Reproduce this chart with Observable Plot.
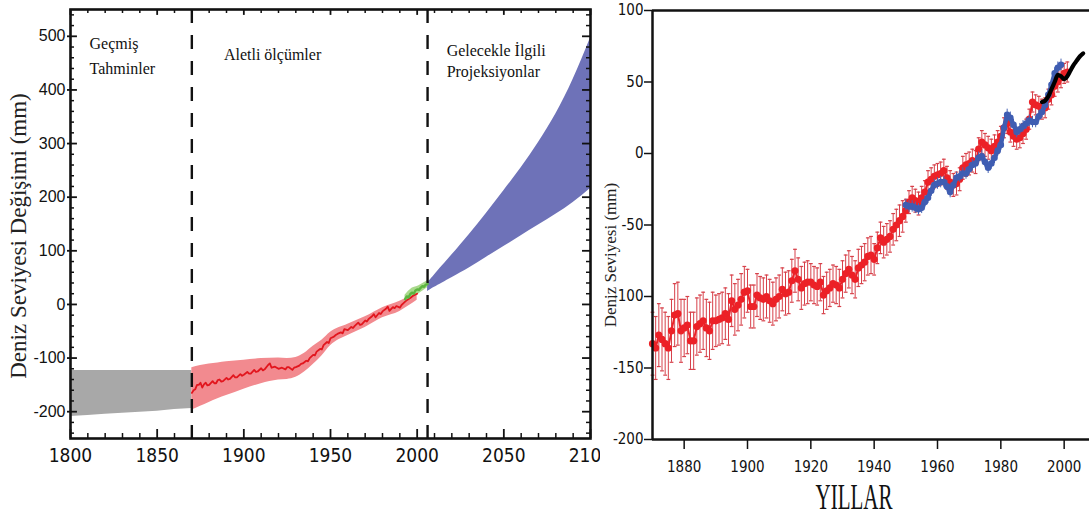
<!DOCTYPE html>
<html>
<head>
<meta charset="utf-8">
<script src="https://cdn.jsdelivr.net/npm/d3@7"></script>
<script src="https://cdn.jsdelivr.net/npm/@observablehq/plot@0.6"></script>
<style>
  html, body { margin: 0; padding: 0; background: #fff; }
  body { width: 1089px; height: 515px; overflow: hidden; position: relative; }
  #left { position: absolute; left: 0; top: 0; width: 600px; height: 470px; overflow: hidden; }
  #right { position: absolute; left: 600px; top: 0; width: 489px; height: 515px; overflow: hidden; }
  #yillar { position: absolute; left: 854px; top: 497px; transform: translate(-50%, -50%) scaleX(0.6);
            font-family: "Liberation Serif", "Times New Roman", serif; font-size: 35px; color: #111; white-space: nowrap; line-height: 1; }
</style>
</head>
<body>
<div id="left"></div>
<div id="right"></div>
<div id="yillar">YILLAR</div>
<script>
// ---------------- LEFT PANEL DATA ----------------
const leftYLabel = "Deniz Seviyesi Değişimi (mm)";
const leftXMajor = [1800, 1850, 1900, 1950, 2000, 2050, 2100];
const leftXMinor = [1810, 1820, 1830, 1840, 1860, 1870, 1880, 1890, 1910, 1920, 1930, 1940, 1960, 1970, 1980, 1990, 2010, 2020, 2030, 2040, 2060, 2070, 2080, 2090];
const leftYMajor = [-200, -100, 0, 100, 200, 300, 400, 500];
const leftYMinor = [-240, -220, -180, -160, -140, -120, -80, -60, -40, -20, 20, 40, 60, 80, 120, 140, 160, 180, 220, 240, 260, 280, 320, 340, 360, 380, 420, 440, 460, 480, 520, 540];
const periodBounds = [1870, 2006];

const periodLabels = [
  {year: 1811, value: 485, text: "Geçmiş"},
  {year: 1811, value: 440, text: "Tahminler"},
  {year: 1888.5, value: 466, text: "Aletli ölçümler"},
  {year: 2017, value: 472, text: "Gelecekle İlgili"},
  {year: 2017, value: 433, text: "Projeksiyonlar"}
];

// [year, low, high]
const grayBand = [[1800,-209,-123],[1810,-207,-123],[1820,-205,-123],[1830,-203,-123],[1840,-201,-123],[1850,-199,-123],[1860,-196,-123],[1870,-194,-123]];
const redBand = [[1870,-197,-118],[1875,-190,-114],[1880,-183,-111],[1885,-176,-109],[1890,-170,-107],[1900,-158,-104],[1910,-148,-101],[1920,-141,-100],[1925,-140,-101],[1930,-136,-99],[1935,-126,-91],[1940,-112,-78],[1945,-96,-67],[1950,-77,-52],[1960,-58,-37],[1970,-43,-23],[1980,-25,-6],[1990,-13,6],[1995,-3,14],[2000,8,27]];
const redLine = [[1870,-165],[1871,-160],[1872,-158],[1873,-150],[1874,-150],[1875,-146],[1876,-155],[1877,-149],[1878,-146],[1879,-151],[1880,-150],[1882,-143],[1883,-147],[1884,-147],[1885,-141],[1886,-140],[1887,-144],[1888,-143],[1890,-137],[1891,-140],[1892,-139],[1894,-132],[1895,-136],[1896,-136],[1898,-130],[1899,-133],[1900,-131],[1902,-126],[1903,-129],[1904,-129],[1906,-122],[1907,-126],[1908,-125],[1910,-119],[1911,-123],[1912,-121],[1914,-113],[1915,-110],[1916,-118],[1918,-116],[1919,-118],[1920,-120],[1922,-118],[1924,-121],[1925,-117],[1926,-117],[1928,-122],[1929,-118],[1930,-117],[1932,-114],[1933,-111],[1934,-110],[1936,-105],[1937,-106],[1938,-100],[1940,-94],[1941,-95],[1942,-88],[1944,-83],[1945,-84],[1946,-76],[1948,-70],[1949,-72],[1950,-63],[1952,-60],[1953,-57],[1954,-55],[1956,-52],[1957,-54],[1958,-46],[1960,-48],[1962,-42],[1963,-44],[1964,-40],[1966,-34],[1967,-38],[1968,-37],[1970,-30],[1971,-32],[1972,-27],[1974,-22],[1975,-18],[1976,-24],[1978,-16],[1979,-18],[1980,-13],[1982,-8],[1983,-4],[1984,-12],[1986,-5],[1987,-7],[1988,-3],[1990,-6],[1991,-1],[1992,2],[1994,8],[1996,12],[1998,17],[2000,20]];
const greenLine = [[1993,10],[1994,15],[1995,13],[1996,19],[1997,22],[1998,20],[1999,26],[2000,28],[2001,27],[2002,31],[2003,34],[2004,33],[2005,37],[2006,38]];
const greenBand = [[1993,3,17],[1997,13,30],[2001,20,35],[2006,31,44]];
const blueBand = [[2006,24,40],[2010,32,55],[2020,50,92],[2030,68,130],[2040,88,170],[2050,108,212],[2060,128,255],[2070,148,302],[2080,168,355],[2090,190,420],[2100,216,497]];

// ---------------- RIGHT PANEL DATA ----------------
const rightYLabel = "Deniz Seviyesi (mm)";
const rightXTicks = [1880, 1900, 1920, 1940, 1960, 1980, 2000];
const rightYTicks = [-200, -150, -100, -50, 0, 50, 100];

// red reconstruction [year, value]
const redSeries = [[1870,-133],[1871,-136],[1872,-127],[1873,-130],[1874,-133],[1875,-136],[1876,-124],[1877,-113],[1878,-112],[1879,-124],
[1880,-122],[1881,-120],[1882,-131],[1883,-131],[1884,-121],[1885,-119],[1886,-117],[1887,-122],[1888,-124],[1889,-117],
[1890,-117],[1891,-116],[1892,-115],[1893,-112],[1894,-116],[1895,-103],[1896,-109],[1897,-106],[1898,-102],[1899,-97],
[1900,-96],[1901,-107],[1902,-107],[1903,-99],[1904,-101],[1905,-102],[1906,-100],[1907,-103],[1908,-105],[1909,-102],
[1910,-100],[1911,-95],[1912,-98],[1913,-97],[1914,-89],[1915,-82],[1916,-88],[1917,-94],[1918,-91],[1919,-90],
[1920,-90],[1921,-92],[1922,-93],[1923,-90],[1924,-99],[1925,-96],[1926,-94],[1927,-91],[1928,-92],[1929,-94],
[1930,-88],[1931,-84],[1932,-81],[1933,-85],[1934,-88],[1935,-80],[1936,-78],[1937,-76],[1938,-72],[1939,-71],
[1940,-74],[1941,-66],[1942,-59],[1943,-62],[1944,-60],[1945,-58],[1946,-53],[1947,-50],[1948,-47],[1949,-44],
[1950,-40],[1951,-34],[1952,-31],[1953,-33],[1954,-35],[1955,-31],[1956,-27],[1957,-20],[1958,-18],[1959,-16],
[1960,-15],[1961,-14],[1962,-12],[1963,-17],[1964,-20],[1965,-22],[1966,-21],[1967,-18],[1968,-10],[1969,-8],
[1970,-7],[1971,-5],[1972,-6],[1973,3],[1974,8],[1975,6],[1976,4],[1977,2],[1978,5],[1979,8],
[1980,12],[1981,18],[1982,21],[1983,15],[1984,12],[1985,10],[1986,11],[1987,14],[1988,17],[1989,24],
[1990,36],[1991,34],[1992,33],[1993,31],[1994,32],[1995,38],[1996,41],[1997,47],[1998,50],[1999,53],
[2000,56],[2001,57]];
// error half-widths by period
const redErrorPeriods = [
  {from: 1870, to: 1879, err: 22},
  {from: 1880, to: 1889, err: 20},
  {from: 1890, to: 1899, err: 18},
  {from: 1900, to: 1919, err: 15},
  {from: 1920, to: 1939, err: 13},
  {from: 1940, to: 1949, err: 11},
  {from: 1950, to: 1979, err: 8},
  {from: 1980, to: 2001, err: 7}
];
// blue reconstruction
const blueSeries = [[1950,-36],[1951,-37],[1952,-37],[1953,-38],[1954,-39],[1955,-38],[1956,-34],[1957,-31],[1958,-26],[1959,-22],
[1960,-21],[1961,-20],[1962,-20],[1963,-23],[1964,-27],[1965,-22],[1966,-17],[1967,-16],[1968,-14],[1969,-14],
[1970,-11],[1971,-8],[1972,-7],[1973,-3],[1974,-2],[1975,-6],[1976,-10],[1977,-7],[1978,-3],[1979,2],
[1980,6],[1981,18],[1982,27],[1983,25],[1984,20],[1985,15],[1986,17],[1987,19],[1988,21],[1989,23],
[1990,22],[1991,22],[1992,26],[1993,29],[1994,34],[1995,41],[1996,48],[1997,56],[1998,60],[1999,62]];
const blueErr = 4;
// satellite altimetry
const blackSeries = [[1993,36],[1994,37],[1995,40],[1996,45],[1997,50],[1998,55],[1999,54],[2000,52],[2001,54],[2002,58],[2003,62],[2004,65],[2005,68],[2006,70]];

// ---------------- LEFT PANEL ----------------
const L = {x0: 1800, x1: 2100, y0: -250, y1: 550};
const lx = d => d[0];
const tickMajV = 16.8, tickMinV = 9.3;   // bottom tick length (mm)
const tickTopMaj = 11, tickTopMin = 7.5; // top tick length (mm)
const tickMajH = 4.0, tickMinH = 2.3;    // left tick length (years)
const tickRMaj = 4.6, tickRMin = 2.3;    // right tick length (years)

const left = Plot.plot({
  width: 600, height: 470,
  marginLeft: 70, marginRight: 10, marginTop: 9, marginBottom: 32,
  x: {domain: [L.x0, L.x1]},
  y: {domain: [L.y0, L.y1]},
  style: {background: "white", fontFamily: "'Liberation Sans', Arial, sans-serif", color: "#111", overflow: "visible"},
  marks: [
    Plot.areaY(grayBand, {x: lx, y1: d => d[1], y2: d => d[2], fill: "#a8a8a8"}),
    Plot.areaY(redBand, {x: lx, y1: d => d[1], y2: d => d[2], fill: "#f28a8f", curve: "monotone-x"}),
    Plot.areaY(blueBand, {x: lx, y1: d => d[1], y2: d => d[2], fill: "#6e72b8", curve: "natural"}),
    Plot.areaY(greenBand, {x: lx, y1: d => d[1], y2: d => d[2], fill: "#a9d98c", curve: "monotone-x"}),
    Plot.line(redLine, {x: lx, y: d => d[1], stroke: "#e2161e", strokeWidth: 1.8}),
    Plot.line(greenLine, {x: lx, y: d => d[1], stroke: "#5cb540", strokeWidth: 2.4}),
    Plot.ruleX(periodBounds, {x: d => d, stroke: "#111", strokeWidth: 2.4, strokeDasharray: "14,12"}),
    // inward ticks
    Plot.ruleX(leftXMajor, {x: d => d, y1: L.y0, y2: L.y0 + tickMajV, stroke: "#111", strokeWidth: 1.8}),
    Plot.ruleX(leftXMinor, {x: d => d, y1: L.y0, y2: L.y0 + tickMinV, stroke: "#111", strokeWidth: 1.5}),
    Plot.ruleX(leftXMajor, {x: d => d, y1: L.y1, y2: L.y1 - tickTopMaj, stroke: "#111", strokeWidth: 1.8}),
    Plot.ruleX(leftXMinor, {x: d => d, y1: L.y1, y2: L.y1 - tickTopMin, stroke: "#111", strokeWidth: 1.5}),
    Plot.ruleY(leftYMajor, {y: d => d, x1: L.x0, x2: L.x0 + tickMajH, stroke: "#111", strokeWidth: 1.8}),
    Plot.ruleY(leftYMinor, {y: d => d, x1: L.x0, x2: L.x0 + tickMinH, stroke: "#111", strokeWidth: 1.5}),
    Plot.ruleY(leftYMajor, {y: d => d, x1: L.x1, x2: L.x1 - tickRMaj, stroke: "#111", strokeWidth: 1.8}),
    Plot.ruleY(leftYMinor, {y: d => d, x1: L.x1, x2: L.x1 - tickRMin, stroke: "#111", strokeWidth: 1.5}),
    Plot.frame({stroke: "#111", strokeWidth: 2.6}),
    Plot.axisX(leftXMajor, {tickSize: 0, tickPadding: 10, fontSize: 19, fontFamily: "'Liberation Sans Narrow', 'DejaVu Sans Condensed', sans-serif", tickFormat: d => String(d), label: null}),
    Plot.axisY(leftYMajor, {tickSize: 3, tickPadding: 2, fontSize: 16, tickFormat: d => String(d), label: null, strokeWidth: 1.8}),
    Plot.text(periodLabels, {x: d => d.year, y: d => d.value, text: d => d.text, textAnchor: "start", fontFamily: "'Liberation Serif', 'Times New Roman', serif", fontSize: 16, fill: "#111"}),
    Plot.text([leftYLabel], {text: d => d, frameAnchor: "left", textAnchor: "middle", dx: -52, dy: 12, rotate: -90, fontFamily: "'Liberation Serif', 'Times New Roman', serif", fontSize: 23, fill: "#222"})
  ]
});
document.getElementById("left").appendChild(left);

// ---------------- RIGHT PANEL ----------------
const R = {x0: 1870, x1: 2008, y0: -200, y1: 100};
const errFor = y => (redErrorPeriods.find(p => y >= p.from && y <= p.to) || {err: 7}).err;
const capHalf = 0.6;

const right = Plot.plot({
  width: 489, height: 515,
  marginLeft: 52, marginRight: 0, marginTop: 10, marginBottom: 76,
  x: {domain: [R.x0, R.x1]},
  y: {domain: [R.y0, R.y1]},
  style: {background: "white", fontFamily: "'Liberation Sans Narrow', 'DejaVu Sans Condensed', sans-serif", fontSize: "15px", color: "#111"},
  marks: [
    // red error bars
    Plot.ruleX(redSeries, {x: d => d[0], y1: d => d[1] - errFor(d[0]), y2: d => d[1] + errFor(d[0]), stroke: "#d7414a", strokeWidth: 1}),
    Plot.link(redSeries, {x1: d => d[0] - capHalf, x2: d => d[0] + capHalf, y1: d => d[1] + errFor(d[0]), y2: d => d[1] + errFor(d[0]), stroke: "#d7414a", strokeWidth: 1.2}),
    Plot.link(redSeries, {x1: d => d[0] - capHalf, x2: d => d[0] + capHalf, y1: d => d[1] - errFor(d[0]), y2: d => d[1] - errFor(d[0]), stroke: "#d7414a", strokeWidth: 1.2}),
    Plot.line(redSeries, {x: d => d[0], y: d => d[1], stroke: "#ec2127", strokeWidth: 2}),
    Plot.dot(redSeries, {x: d => d[0], y: d => d[1], r: 3.6, fill: "#ec2127", stroke: "none"}),
    // blue
    Plot.ruleX(blueSeries, {x: d => d[0], y1: d => d[1] - blueErr, y2: d => d[1] + blueErr, stroke: "#4a64b4", strokeWidth: 1}),
    Plot.line(blueSeries, {x: d => d[0], y: d => d[1], stroke: "#3f5db2", strokeWidth: 4.5}),
    Plot.dot(blueSeries, {x: d => d[0], y: d => d[1], r: 3.3, fill: "#3f5db2", stroke: "none"}),
    // black
    Plot.line(blackSeries, {x: d => d[0], y: d => d[1], stroke: "#000", strokeWidth: 4.2, strokeLinecap: "round", curve: "monotone-x"}),
    // axes
    Plot.ruleY([R.y1], {stroke: "#111", strokeWidth: 2.5}),
    Plot.axisX(rightXTicks, {tickSize: 10, tickPadding: 12, fontSize: 15, tickFormat: d => String(d), label: null, strokeWidth: 1.5}),
    Plot.axisY(rightYTicks, {tickSize: 8, tickPadding: 1, fontSize: 15, tickFormat: d => String(d), label: null, strokeWidth: 1.5}),
    Plot.ruleX([R.x0], {stroke: "#111", strokeWidth: 2.5}),
    Plot.ruleY([R.y0], {stroke: "#111", strokeWidth: 2.5}),
    Plot.text([rightYLabel], {text: d => d, frameAnchor: "left", textAnchor: "middle", dx: -42, dy: 30, rotate: -90, fontFamily: "'Liberation Serif', 'Times New Roman', serif", fontSize: 17, fill: "#222"})
  ]
});
document.getElementById("right").appendChild(right);
</script>
</body>
</html>
